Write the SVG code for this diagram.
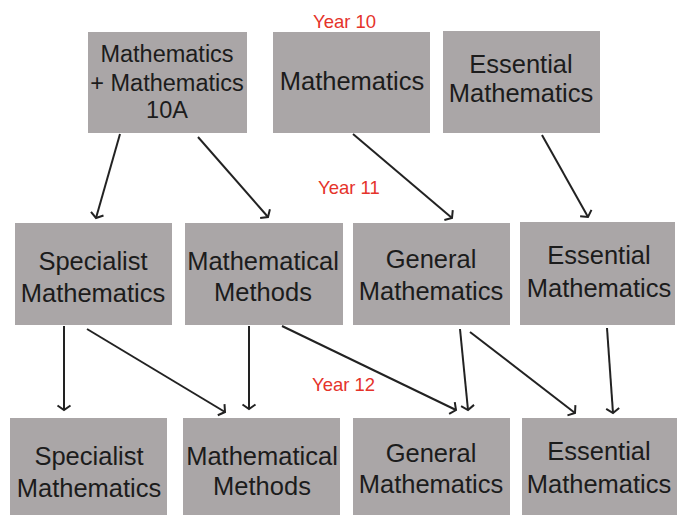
<svg xmlns="http://www.w3.org/2000/svg" width="677" height="515" viewBox="0 0 677 515">
<defs>
<style>
.box{fill:#aaa6a7;}
.t{font-family:"Liberation Sans",Arial,sans-serif;font-size:25.5px;fill:#1c1c1c;text-anchor:middle;}
.ts{font-family:"Liberation Sans",Arial,sans-serif;font-size:23.5px;fill:#1c1c1c;text-anchor:middle;}
.yr{font-family:"Liberation Sans",Arial,sans-serif;font-size:18.5px;fill:#e5332a;}
.c{stroke:#222;stroke-width:2;fill:none;marker-end:url(#ah);}
</style>
<marker id="ah" markerUnits="userSpaceOnUse" markerWidth="14" markerHeight="16" refX="8" refY="8" orient="auto" viewBox="0 0 14 16">
<path d="M3.5,1.5 L8,8 L3.5,14.5" fill="none" stroke="#222" stroke-width="2"/>
</marker>
</defs>
<rect width="677" height="515" fill="#ffffff"/>
<text class="yr" x="313" y="28">Year 10</text>
<text class="yr" x="318" y="194">Year 11</text>
<text class="yr" x="312" y="391">Year 12</text>

<g id="y10-math10a"><rect class="box" x="88" y="32" width="159" height="101"/><text class="ts" x="167" y="62">Mathematics</text><text class="ts" x="167" y="91">+ Mathematics</text><text class="ts" x="167" y="118">10A</text></g>
<g id="y10-math"><rect class="box" x="273" y="32" width="157" height="101"/><text class="t" x="352" y="90">Mathematics</text></g>
<g id="y10-ess"><rect class="box" x="443" y="31" width="157" height="102"/><text class="t" x="521" y="73">Essential</text><text class="t" x="521" y="102">Mathematics</text></g>

<g id="y11-spec"><rect class="box" x="15" y="223" width="157" height="102"/><text class="t" x="93" y="270">Specialist</text><text class="t" x="93" y="302">Mathematics</text></g>
<g id="y11-meth"><rect class="box" x="185" y="223" width="158" height="102"/><text class="t" x="263" y="270">Mathematical</text><text class="t" x="263" y="301">Methods</text></g>
<g id="y11-gen"><rect class="box" x="353" y="223" width="157" height="102"/><text class="t" x="431" y="268">General</text><text class="t" x="431" y="300">Mathematics</text></g>
<g id="y11-ess"><rect class="box" x="520" y="222" width="155" height="103"/><text class="t" x="599" y="264">Essential</text><text class="t" x="599" y="297">Mathematics</text></g>

<g id="y12-spec"><rect class="box" x="10" y="418" width="157" height="97"/><text class="t" x="89" y="465">Specialist</text><text class="t" x="89" y="497">Mathematics</text></g>
<g id="y12-meth"><rect class="box" x="183" y="418" width="157" height="97"/><text class="t" x="262" y="465">Mathematical</text><text class="t" x="262" y="495">Methods</text></g>
<g id="y12-gen"><rect class="box" x="353" y="418" width="157" height="97"/><text class="t" x="431" y="462">General</text><text class="t" x="431" y="493">Mathematics</text></g>
<g id="y12-ess"><rect class="box" x="522" y="418" width="155" height="97"/><text class="t" x="599" y="460">Essential</text><text class="t" x="599" y="493">Mathematics</text></g>

<g id="connectors">
<line class="c" x1="120" y1="134" x2="96" y2="218"/>
<line class="c" x1="198" y1="137" x2="268" y2="217"/>
<line class="c" x1="353" y1="134" x2="452" y2="218"/>
<line class="c" x1="542" y1="135" x2="588" y2="217"/>
<line class="c" x1="64" y1="326" x2="64" y2="410"/>
<line class="c" x1="87" y1="329" x2="225" y2="412"/>
<line class="c" x1="249" y1="326" x2="249" y2="409"/>
<line class="c" x1="282" y1="326" x2="456" y2="410"/>
<line class="c" x1="460" y1="329" x2="468" y2="410"/>
<line class="c" x1="470" y1="332" x2="575" y2="413"/>
<line class="c" x1="607" y1="328" x2="613" y2="413"/>
</g>
</svg>
